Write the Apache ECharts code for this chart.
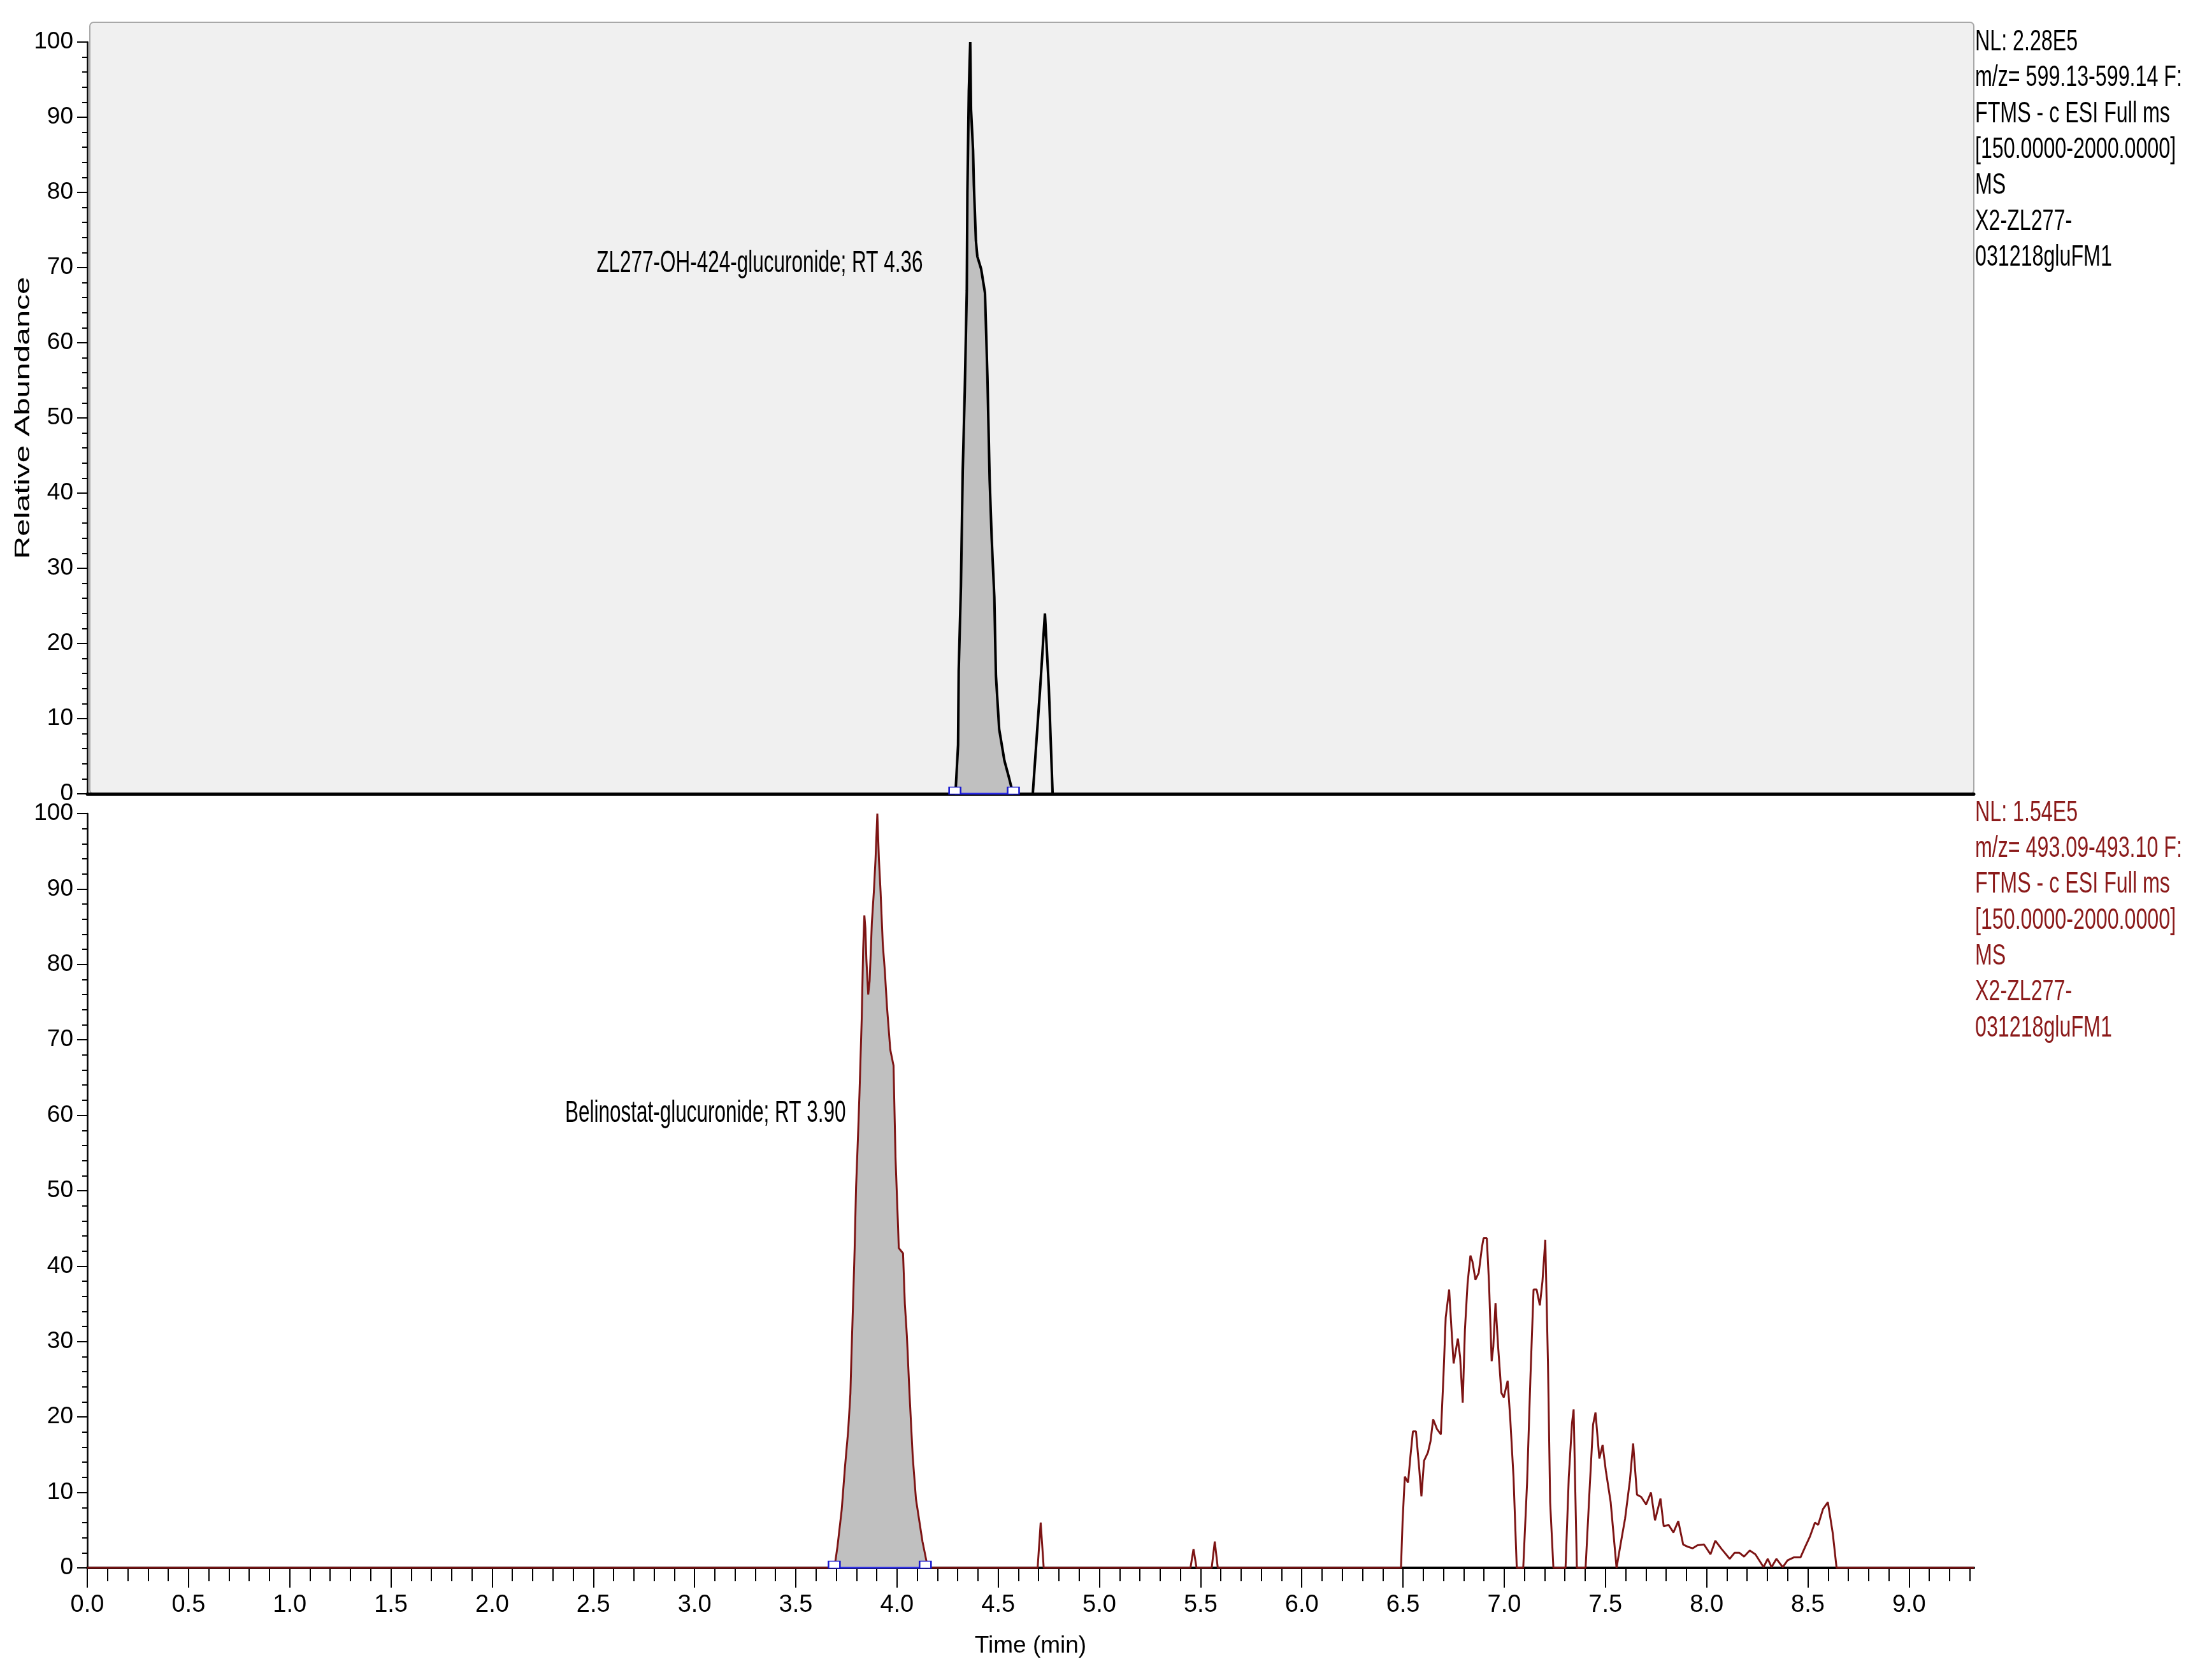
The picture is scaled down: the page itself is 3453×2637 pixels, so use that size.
<!DOCTYPE html>
<html><head><meta charset="utf-8">
<script src="https://cdn.jsdelivr.net/npm/echarts@6/dist/echarts.min.js"></script>
<style>html,body{margin:0;padding:0;background:#fff}#c{width:3453px;height:2637px}</style>
</head><body><div id="c"></div>
<script>
// ---- data (time in min, relative abundance in %) ----
const topTrace = [
  [0,0],[4.289,0],[4.302,6.5],[4.305,16.4],[4.316,27.6],[4.325,43],[4.335,53.6],[4.345,67],
  [4.348,80],[4.355,93.5],[4.362,100],[4.366,91],[4.376,85.6],[4.380,81],[4.390,73.6],[4.397,71.5],
  [4.416,69.8],[4.435,66.6],[4.447,55.4],[4.458,41.7],[4.468,34],[4.481,26.2],[4.489,15.7],
  [4.505,8.6],[4.531,4.4],[4.552,2.3],[4.565,0.9],[4.573,0],[4.671,0],[4.708,14.3],[4.731,24],
  [4.750,14.3],[4.769,0],[9.32,0]
];
const bottomTrace = [
  [0,0],[3.691,0],[3.706,2.8],[3.727,7.7],[3.743,13.3],[3.759,18.2],[3.770,23.1],[3.775,28],
  [3.783,35],[3.791,42.4],[3.798,50.5],[3.807,56.8],[3.815,63],[3.826,72.9],[3.833,82],[3.839,86.5],
  [3.844,84.8],[3.849,80.6],[3.858,76],[3.865,77.8],[3.876,85.5],[3.886,89.7],[3.894,93.9],[3.903,100],
  [3.911,93.9],[3.919,89.7],[3.930,82.7],[3.940,79.2],[3.951,74.3],[3.967,68.7],[3.983,66.6],[3.993,54.3],
  [4.004,46.3],[4.009,42.4],[4.030,41.7],[4.039,35],[4.049,30.8],[4.062,23.1],[4.078,14.7],[4.094,9.1],
  [4.110,6.3],[4.126,3.5],[4.139,1.8],[4.152,0],
  [4.695,0],[4.710,6],[4.725,0],
  [5.450,0],[5.465,2.5],[5.480,0],[5.555,0],[5.570,3.5],[5.585,0],
  [6.490,0],[6.498,6.2],[6.509,12.1],[6.525,11.3],[6.537,14.9],[6.549,18.1],[6.564,18.1],[6.580,13.2],
  [6.591,9.5],[6.604,14.2],[6.623,15.3],[6.636,16.8],[6.649,19.7],[6.668,18.4],[6.687,17.7],[6.700,25.5],
  [6.711,33.2],[6.728,36.9],[6.739,31.9],[6.750,27.1],[6.771,30.4],[6.782,28],[6.795,21.9],[6.806,31.6],
  [6.819,37.7],[6.833,41.4],[6.843,40.6],[6.858,38.2],[6.874,39.1],[6.890,42.5],[6.898,43.7],[6.914,43.7],
  [6.925,37.7],[6.938,27.4],[6.946,29.3],[6.957,35.1],[6.970,29.3],[6.986,23.2],[6.998,22.6],[7.017,24.8],
  [7.030,19.7],[7.046,12],[7.062,0],[7.094,0],[7.113,11.3],[7.129,24.8],[7.145,36.9],[7.160,36.9],
  [7.176,34.8],[7.189,38],[7.203,43.5],[7.216,27.4],[7.227,8.7],[7.243,0],[7.303,0],[7.319,12],
  [7.335,19.2],[7.343,21],[7.359,0],[7.402,0],[7.423,11],[7.439,19],[7.451,20.6],[7.470,14.5],
  [7.486,16.3],[7.502,12.9],[7.526,8.7],[7.555,0],[7.574,3],[7.597,6.5],[7.621,11.6],[7.637,16.5],
  [7.656,9.7],[7.677,9.4],[7.701,8.4],[7.725,10],[7.745,6.3],[7.772,9.2],[7.788,5.5],[7.812,5.7],
  [7.836,4.7],[7.860,6.2],[7.884,3.1],[7.907,2.8],[7.931,2.6],[7.955,3],[7.987,3.1],[8.019,1.8],
  [8.043,3.6],[8.074,2.5],[8.114,1.2],[8.138,2],[8.162,2],[8.185,1.5],[8.213,2.3],[8.241,1.8],
  [8.281,0.1],[8.302,1.2],[8.321,0.1],[8.345,1.2],[8.376,0.1],[8.400,1],[8.432,1.4],[8.464,1.4],
  [8.487,2.8],[8.511,4.2],[8.535,6],[8.551,5.7],[8.575,7.8],[8.599,8.7],[8.623,4.6],[8.642,0],
  [9.32,0]
];
const topIntegration = [4.286, 4.575];
const bottomIntegration = [3.690, 4.140];
const xTickLabels = ['0.0','0.5','1.0','1.5','2.0','2.5','3.0','3.5','4.0','4.5','5.0','5.5','6.0','6.5','7.0','7.5','8.0','8.5','9.0'];
const yTickLabels = ['0','10','20','30','40','50','60','70','80','90','100'];
const timeRange = [0, 9.32];
const topInfo = ['NL: 2.28E5','m/z= 599.13-599.14 F:','FTMS - c ESI Full ms','[150.0000-2000.0000]','MS','X2-ZL277-','031218gluFM1'];
const bottomInfo = ['NL: 1.54E5','m/z= 493.09-493.10 F:','FTMS - c ESI Full ms','[150.0000-2000.0000]','MS','X2-ZL277-','031218gluFM1'];
const topPeakLabel = {text: 'ZL277-OH-424-glucuronide; RT 4.36', time: 4.128, abundance: 70.5};
const bottomPeakLabel = {text: 'Belinostat-glucuronide; RT 3.90', time: 3.747, abundance: 60.2};
const yAxisTitle = 'Relative Abundance';
const xAxisTitle = 'Time (min)';

// ---- derived ----
const xMajor = xTickLabels.map(Number);
const xMinor = [];
for (let k = 1; k <= Math.round(timeRange[1] * 10); k++) { if (k % 5 !== 0) xMinor.push(k / 10); }
const yMax = Number(yTickLabels[yTickLabels.length - 1]);
const yInterval = Number(yTickLabels[1]) - Number(yTickLabels[0]);
function integrated(trace, rng) {
  const inner = trace.filter(p => p[0] >= rng[0] && p[0] <= rng[1]);
  return [[rng[0], 0]].concat(inner, [[rng[1], 0]]);
}
const SANS = '"Liberation Sans", Arial, sans-serif';
const MAROON = '#7d1414';

const chart = echarts.init(document.getElementById('c'), null, {renderer: 'canvas'});
function yAxisOpt(g) {
  return {
    type: 'value', gridIndex: g, min: 0, max: yMax, interval: yInterval,
    axisLine: {show: true, lineStyle: {color: '#000', width: 2.5}},
    axisTick: {show: true, inside: false, length: 16, lineStyle: {color: '#000', width: 2}},
    minorTick: {show: true, splitNumber: 5, length: 8, lineStyle: {color: '#000', width: 2}},
    axisLabel: {show: true, margin: 22, fontFamily: SANS, fontSize: 37, color: '#000'},
    splitLine: {show: false}, minorSplitLine: {show: false}
  };
}
chart.setOption({
  animation: false,
  backgroundColor: '#fff',
  grid: [
    {left: 137, top: 66, width: 2961, height: 1180, containLabel: false},
    {left: 137, top: 1277, width: 2961, height: 1184, containLabel: false}
  ],
  xAxis: [
    {type: 'value', gridIndex: 0, position: 'bottom', min: timeRange[0], max: timeRange[1],
     axisLine: {show: true, onZero: false, lineStyle: {color: '#000', width: 5}},
     axisTick: {show: false}, axisLabel: {show: false}, splitLine: {show: false}},
    {type: 'value', gridIndex: 1, position: 'bottom', min: timeRange[0], max: timeRange[1],
     name: xAxisTitle, nameLocation: 'middle', nameGap: 104,
     nameTextStyle: {fontFamily: SANS, fontSize: 37, color: '#000'},
     axisLine: {show: true, onZero: false, lineStyle: {color: '#000', width: 4}},
     axisTick: {show: true, customValues: xMajor, length: 31, lineStyle: {color: '#000', width: 2}},
     axisLabel: {show: true, customValues: xMajor, margin: 40, fontFamily: SANS, fontSize: 38, color: '#000',
                 formatter: v => xTickLabels[xMajor.indexOf(v)] ?? v.toFixed(1)},
     splitLine: {show: false}},
    {type: 'value', gridIndex: 1, position: 'bottom', offset: 0, min: timeRange[0], max: timeRange[1],
     axisLine: {show: false, onZero: false},
     axisTick: {show: true, customValues: xMinor, length: 21, lineStyle: {color: '#000', width: 2}},
     axisLabel: {show: false}, splitLine: {show: false}}
  ],
  yAxis: [yAxisOpt(0), yAxisOpt(1)],
  series: [
    {type: 'line', xAxisIndex: 0, yAxisIndex: 0, z: 2, data: integrated(topTrace, topIntegration),
     symbol: 'none', lineStyle: {width: 0}, areaStyle: {color: '#c0c0c0', opacity: 1}, silent: true},
    {type: 'line', xAxisIndex: 0, yAxisIndex: 0, z: 3, data: topTrace,
     symbol: 'none', lineStyle: {color: '#000', width: 4}, silent: true},
    {type: 'line', xAxisIndex: 0, yAxisIndex: 0, z: 4, data: topIntegration.map(t => [t, 0]),
     symbol: 'emptyRect', symbolSize: [18, 11], symbolOffset: [0, -5], showAllSymbol: true,
     itemStyle: {color: '#1a1ad0', borderWidth: 2}, lineStyle: {color: '#2a2ae6', width: 3}, silent: true},
    {type: 'line', xAxisIndex: 1, yAxisIndex: 1, z: 2, data: integrated(bottomTrace, bottomIntegration),
     symbol: 'none', lineStyle: {width: 0}, areaStyle: {color: '#c0c0c0', opacity: 1}, silent: true},
    {type: 'line', xAxisIndex: 1, yAxisIndex: 1, z: 3, data: bottomTrace,
     symbol: 'none', lineStyle: {color: MAROON, width: 3}, silent: true},
    {type: 'line', xAxisIndex: 1, yAxisIndex: 1, z: 4, data: bottomIntegration.map(t => [t, 0]),
     symbol: 'emptyRect', symbolSize: [18, 11], symbolOffset: [0, -5], showAllSymbol: true,
     itemStyle: {color: '#1a1ad0', borderWidth: 2}, lineStyle: {color: '#2a2ae6', width: 3}, silent: true}
  ]
});

const pTop = chart.convertToPixel({xAxisIndex: 0, yAxisIndex: 0}, [topPeakLabel.time, topPeakLabel.abundance]);
const pBot = chart.convertToPixel({xAxisIndex: 1, yAxisIndex: 1}, [bottomPeakLabel.time, bottomPeakLabel.abundance]);
const gTop = chart.convertToPixel({xAxisIndex: 0, yAxisIndex: 0}, [timeRange[1], 0]);
const gTopLeft = chart.convertToPixel({xAxisIndex: 0, yAxisIndex: 0}, [timeRange[0], yMax]);
const gBot = chart.convertToPixel({xAxisIndex: 1, yAxisIndex: 1}, [timeRange[1], yMax]);

chart.setOption({
  graphic: [
    {type: 'rect', id: 'topPanel', z: -1, silent: true,
     shape: {x: gTopLeft[0] + 4, y: gTopLeft[1] - 31, width: gTop[0] - gTopLeft[0] - 4, height: gTop[1] - gTopLeft[1] + 31, r: 6},
     style: {fill: '#f0f0f0', stroke: '#a8a8a8', lineWidth: 2}},
    {type: 'text', id: 'yTitle', x: 37, y: (gTopLeft[1] + gTop[1]) / 2, rotation: Math.PI / 2, scaleX: 1.5, z: 10,
     style: {text: yAxisTitle, font: '33px ' + SANS, fill: '#000', align: 'center', verticalAlign: 'middle'}},
    {type: 'text', id: 'topAnn', x: pTop[0], y: pTop[1], scaleX: 0.656, z: 10,
     style: {text: topPeakLabel.text, font: '48px ' + SANS, fill: '#000', align: 'right', verticalAlign: 'middle'}},
    {type: 'text', id: 'botAnn', x: pBot[0], y: pBot[1], scaleX: 0.656, z: 10,
     style: {text: bottomPeakLabel.text, font: '48px ' + SANS, fill: '#000', align: 'right', verticalAlign: 'middle'}},
    {type: 'text', id: 'topInfo', x: gTop[0] + 2, y: gTopLeft[1] - 28, scaleX: 0.70, z: 10,
     style: {text: topInfo.join('\n'), font: '46px ' + SANS, lineHeight: 56.4, fill: '#000', align: 'left', verticalAlign: 'top'}},
    {type: 'text', id: 'botInfo', x: gTop[0] + 2, y: gBot[1] - 29, scaleX: 0.70, z: 10,
     style: {text: bottomInfo.join('\n'), font: '46px ' + SANS, lineHeight: 56.3, fill: '#8b1a1a', align: 'left', verticalAlign: 'top'}}
  ]
});
</script>
</body></html>
